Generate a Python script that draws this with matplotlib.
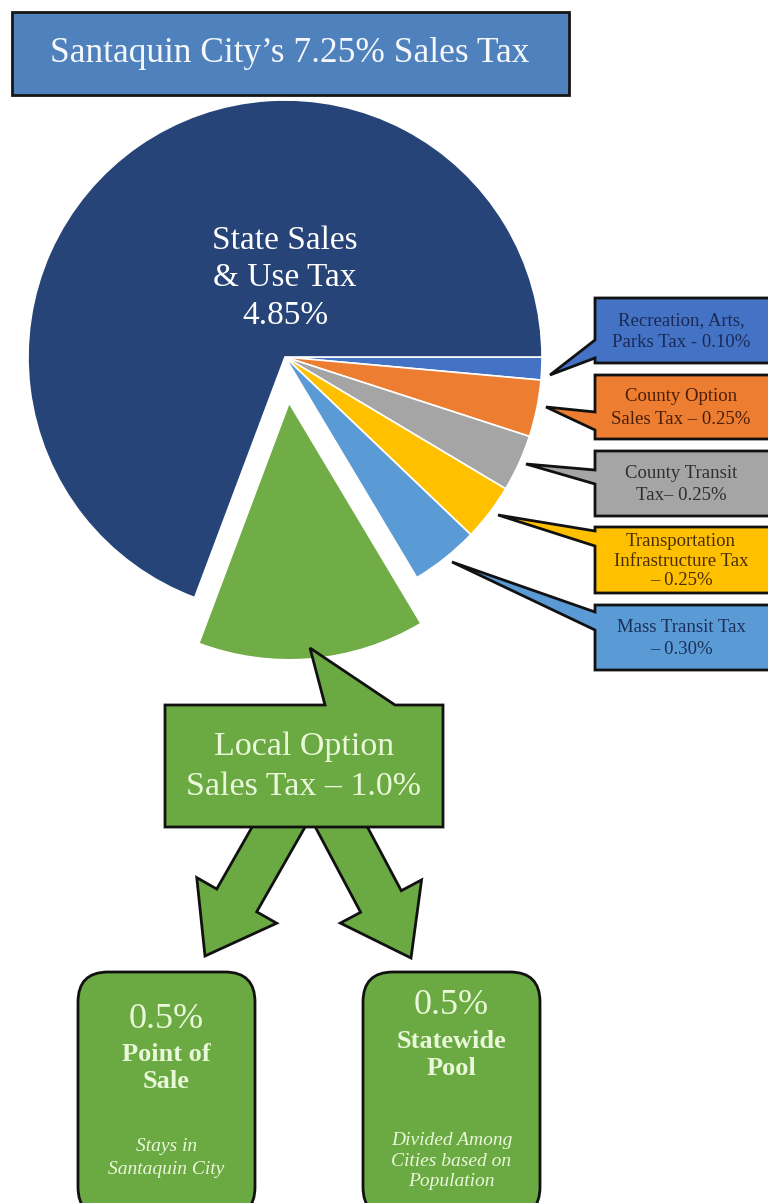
import matplotlib
matplotlib.use("Agg")
import matplotlib.pyplot as plt
from matplotlib.patches import Rectangle, Polygon, FancyArrow, FancyBboxPatch

# pie data (percent of sales tax), clockwise from 3 o'clock
parts = ['Recreation, Arts,\nParks Tax - 0.10%',
         'County Option\nSales Tax \u2013 0.25%',
         'County Transit\nTax\u2013 0.25%',
         'Transportation\nInfrastructure Tax\n\u2013 0.25%',
         'Mass Transit Tax\n\u2013 0.30%',
         'Local Option\nSales Tax \u2013 1.0%',
         'State Sales\n& Use Tax\n4.85%']
rates = [0.10, 0.25, 0.25, 0.25, 0.30, 1.00, 4.85]
colors = ['#4472C4', '#ED7D31', '#A5A5A5', '#FFC000', '#5B9BD5', '#70AD47', '#264478']
text_colors = ['#1B2A55', '#4A1E08', '#2E2E2E', '#4A2E00', '#1B2F5A']

SERIF = ['Liberation Serif', 'DejaVu Serif']

fig = plt.figure(figsize=(7.68, 12.03), dpi=100)
ax = fig.add_axes([0, 0, 1, 1])

cx, cy, r = 285, 357, 257
explode = [0, 0, 0, 0, 0, 46, 0]
ax.pie(rates, colors=colors, startangle=0, counterclock=True, explode=explode,
       radius=r, center=(cx, cy), frame=True,
       wedgeprops=dict(edgecolor='white', linewidth=1.2))
ax.text(cx, 278, parts[6], ha='center', va='center', fontsize=24, color='white',
        family=SERIF, linespacing=1.3)

# title box
ax.add_patch(Rectangle((12, 12), 557, 83, facecolor='#4F81BD', edgecolor='#151515', lw=2))
ax.text(290, 54, "Santaquin City\u2019s 7.25% Sales Tax", ha='center', va='center',
        fontsize=25.5, color='#F4F7FB', family=SERIF)

# callouts on the right: box top, box bottom, tail base top/bottom, tail tip
boxes = [(298, 363, 340, 358, (550, 375)),
         (375, 439, 412, 430, (546, 407)),
         (451, 516, 470, 484, (526, 464)),
         (527, 593, 531, 546, (498, 515)),
         (605, 670, 612, 630, (452, 562))]
x0, x1 = 595, 775
for i, (top, bot, bt, bb, tip) in enumerate(boxes):
    pts = [(x0, top), (x1, top), (x1, bot), (x0, bot), (x0, bb), tip, (x0, bt)]
    ax.add_patch(Polygon(pts, closed=True, facecolor=colors[i], edgecolor='#111111',
                         lw=2, joinstyle='miter', zorder=3))
    ls = 1.22 if parts[i].count('\n') == 2 else 1.4
    ax.text(681, (top + bot) / 2 + 1, parts[i], ha='center', va='center', fontsize=13.5,
            color=text_colors[i], family=SERIF, linespacing=ls, zorder=4)

# local option callout
green = '#6BA943'
lx0, lx1, ly0, ly1 = 165, 443, 705, 827
pts = [(lx0, ly0), (325, ly0), (310, 648), (395, ly0), (lx1, ly0), (lx1, ly1), (lx0, ly1)]
ax.add_patch(Polygon(pts, closed=True, facecolor=green, edgecolor='#111111', lw=2,
                     joinstyle='miter', zorder=3))
ax.text(304, 767, parts[5], ha='center', va='center', fontsize=24.5, color='#EAF8DA',
        family=SERIF, linespacing=1.4, zorder=4)

# arrows down to the two halves
for (sx, sy), (tx, ty) in [((294, 800), (205, 956)), ((327, 800), (411, 958))]:
    ax.add_patch(FancyArrow(sx, sy, tx - sx, ty - sy, width=46, head_width=92,
                            head_length=64, length_includes_head=True,
                            facecolor=green, edgecolor='#111111', lw=2,
                            joinstyle='miter', zorder=2))

# bottom boxes
halves = [('0.5%', 'Point of\nSale', 'Stays in\nSantaquin City'),
          ('0.5%', 'Statewide\nPool', 'Divided Among\nCities based on\nPopulation')]
for k, bx in enumerate([78, 363]):
    ax.add_patch(FancyBboxPatch((bx, 972), 177, 245,
                                boxstyle='round,pad=0,rounding_size=30',
                                facecolor=green, edgecolor='#111111', lw=2, zorder=2))
    mx = bx + 88.5
    pct, name, note = halves[k]
    if k == 0:
        ys, ls = (1020, 1068, 1158), 1.5
    else:
        ys, ls = (1006, 1055, 1161), 1.3
    ax.text(mx, ys[0], pct, ha='center', va='center', fontsize=26, color='#EAF8DA',
            family=SERIF, zorder=4)
    ax.text(mx, ys[1], name, ha='center', va='center', fontsize=19, fontweight='bold',
            color='#EAF8DA', family=SERIF, linespacing=1.25, zorder=4)
    ax.text(mx, ys[2], note, ha='center', va='center', fontsize=14, style='italic',
            color='#EAF8DA', family=SERIF, linespacing=ls, zorder=4)

ax.set_xlim(0, 768)
ax.set_ylim(1203, 0)
ax.set_aspect('auto')
ax.axis('off')

fig.savefig('out.png', dpi=100, facecolor='white')
